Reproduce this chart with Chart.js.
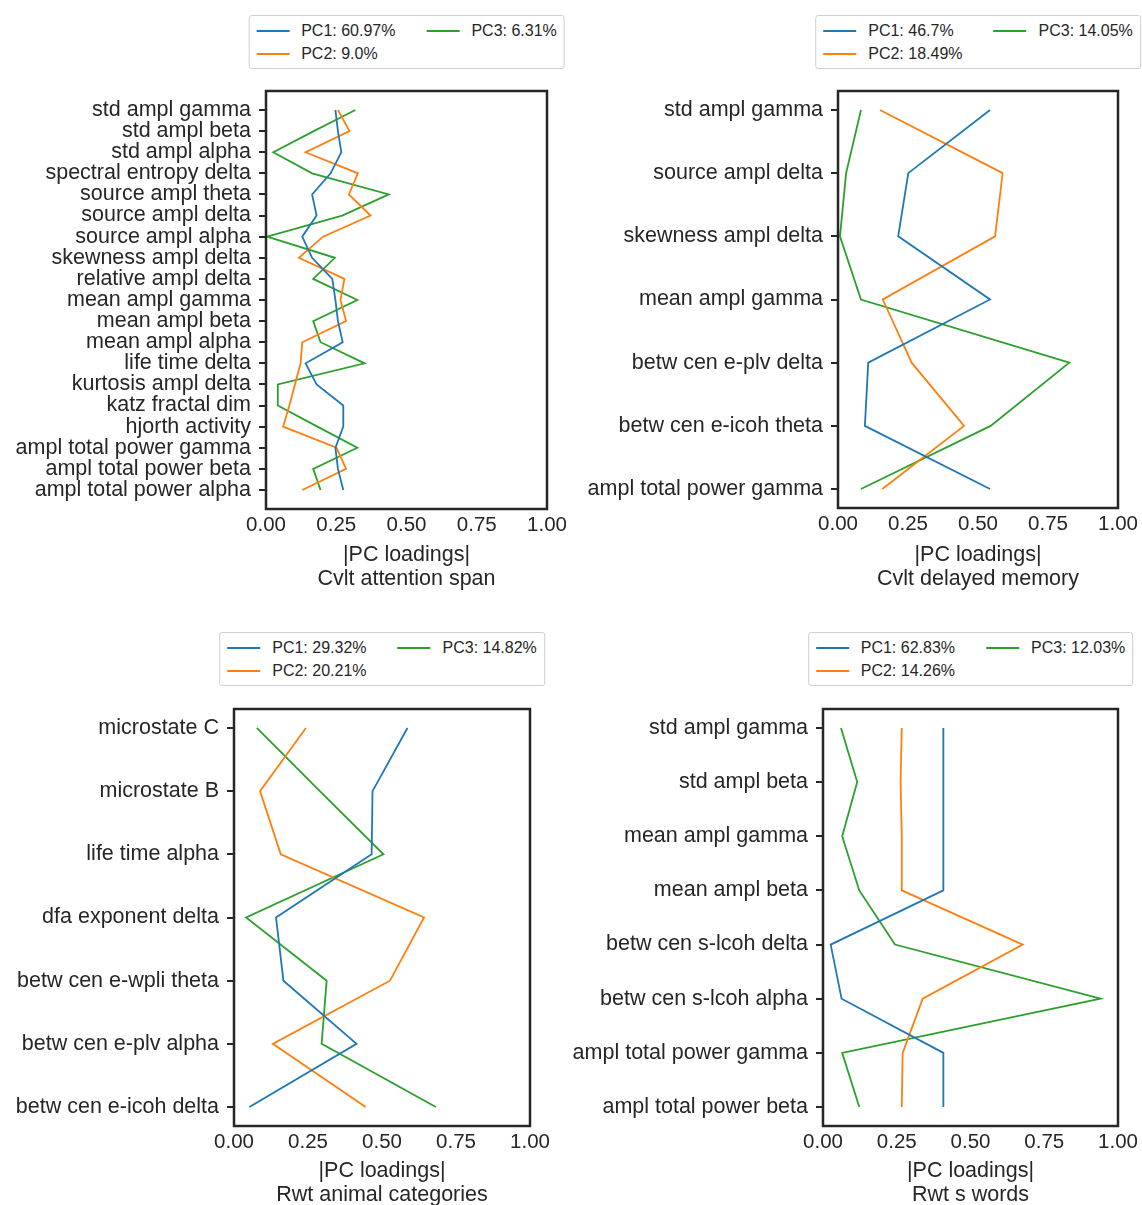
<!DOCTYPE html>
<html>
<head>
<meta charset="utf-8">
<script src="https://cdn.jsdelivr.net/npm/chart.js@4.4.1/dist/chart.umd.min.js"></script>
<style>
  html, body { margin: 0; padding: 0; background: #fff; }
  body { width: 1142px; height: 1205px; position: relative; overflow: hidden;
         font-family: "Liberation Sans", Arial, sans-serif; color: #262626; }
  .panel { position: absolute; }
  .legend { position: absolute; transform: translateX(-50%); background: #fff;
            border: 1px solid #cfcfcf; border-radius: 3px; padding: 3px 7px 3px 7px;
            display: grid; grid-template-columns: auto auto; grid-auto-flow: column;
            grid-template-rows: 23px 23px; column-gap: 31px; font-size: 16px;
            line-height: 23px; white-space: nowrap; z-index: 2; }
  .legend .item { display: flex; align-items: center; }
  .legend .swatch { display: inline-block; width: 33px; height: 2px; margin-right: 12px; }
</style>
</head>
<body>
<script>
// ---- Cvlt attention span ----
const attnLabels = ['std ampl gamma', 'std ampl beta', 'std ampl alpha', 'spectral entropy delta',
  'source ampl theta', 'source ampl delta', 'source ampl alpha', 'skewness ampl delta',
  'relative ampl delta', 'mean ampl gamma', 'mean ampl beta', 'mean ampl alpha',
  'life time delta', 'kurtosis ampl delta', 'katz fractal dim', 'hjorth activity',
  'ampl total power gamma', 'ampl total power beta', 'ampl total power alpha'];
const attnPC1 = [0.247, 0.256, 0.268, 0.230, 0.164, 0.180, 0.129, 0.164, 0.236, 0.247,
  0.256, 0.273, 0.141, 0.180, 0.275, 0.275, 0.247, 0.256, 0.275];
const attnPC2 = [0.256, 0.297, 0.141, 0.327, 0.295, 0.372, 0.203, 0.117, 0.279, 0.265,
  0.285, 0.129, 0.123, 0.103, 0.083, 0.061, 0.251, 0.285, 0.129];
const attnPC3 = [0.318, 0.170, 0.026, 0.164, 0.437, 0.271, 0.004, 0.245, 0.168, 0.325,
  0.168, 0.194, 0.351, 0.042, 0.042, 0.183, 0.325, 0.168, 0.194];
const attnVar = ['60.97', '9.0', '6.31'];

// ---- Cvlt delayed memory ----
const delayLabels = ['std ampl gamma', 'source ampl delta', 'skewness ampl delta',
  'mean ampl gamma', 'betw cen e-plv delta', 'betw cen e-icoh theta', 'ampl total power gamma'];
const delayPC1 = [0.543, 0.251, 0.215, 0.543, 0.108, 0.096, 0.543];
const delayPC2 = [0.150, 0.588, 0.561, 0.160, 0.263, 0.450, 0.158];
const delayPC3 = [0.082, 0.029, 0.007, 0.082, 0.826, 0.545, 0.082];
const delayVar = ['46.7', '18.49', '14.05'];

// ---- Rwt animal categories ----
const animalLabels = ['microstate C', 'microstate B', 'life time alpha', 'dfa exponent delta',
  'betw cen e-wpli theta', 'betw cen e-plv alpha', 'betw cen e-icoh delta'];
const animalPC1 = [0.586, 0.468, 0.465, 0.142, 0.167, 0.414, 0.052];
const animalPC2 = [0.243, 0.088, 0.158, 0.642, 0.527, 0.131, 0.445];
const animalPC3 = [0.077, 0.290, 0.505, 0.041, 0.313, 0.296, 0.682];
const animalVar = ['29.32', '20.21', '14.82'];

// ---- Rwt s words ----
const swordLabels = ['std ampl gamma', 'std ampl beta', 'mean ampl gamma', 'mean ampl beta',
  'betw cen s-lcoh delta', 'betw cen s-lcoh alpha', 'ampl total power gamma', 'ampl total power beta'];
const swordPC1 = [0.408, 0.408, 0.408, 0.408, 0.026, 0.063, 0.408, 0.408];
const swordPC2 = [0.267, 0.263, 0.267, 0.267, 0.677, 0.338, 0.270, 0.267];
const swordPC3 = [0.061, 0.116, 0.065, 0.123, 0.244, 0.941, 0.065, 0.123];
const swordVar = ['62.83', '14.26', '12.03'];

const xTicks = [0, 0.25, 0.5, 0.75, 1];
const pcNames = ['PC1', 'PC2', 'PC3'];
const pcColors = ['#1f77b4', '#ff7f0e', '#2ca02c'];
const FONT = '"Liberation Sans", Arial, sans-serif';
const INK = '#262626';

// Frame around the axes box (all four spines)
const framePlugin = {
  id: 'frame',
  afterDraw(chart) {
    const a = chart.chartArea, ctx = chart.ctx;
    ctx.save();
    ctx.strokeStyle = INK;
    ctx.lineWidth = 2.5;
    ctx.strokeRect(a.left, a.top, a.right - a.left, a.bottom - a.top);
    ctx.restore();
  }
};

// box: canvas placement; frame: axes rectangle in page coordinates
function makePanel(cfg) {
  const { box, frame, labels, series, variance, title } = cfg;
  const div = document.createElement('div');
  div.className = 'panel';
  div.style.left = box.left + 'px';
  div.style.top = box.top + 'px';
  div.style.width = box.width + 'px';
  div.style.height = box.height + 'px';
  const canvas = document.createElement('canvas');
  canvas.width = box.width;
  canvas.height = box.height;
  div.appendChild(canvas);
  document.body.appendChild(div);

  const yAxisWidth = frame.left - box.left;
  const xAxisHeight = box.top + box.height - frame.bottom;
  const n = labels.length;
  const margin = (n - 1) * 0.05;

  new Chart(canvas, {
    type: 'scatter',
    data: {
      datasets: series.map((vals, k) => ({
        label: pcNames[k] + ': ' + variance[k] + '%',
        data: vals.map((v, i) => ({ x: v, y: i })),
        showLine: true,
        borderColor: pcColors[k],
        backgroundColor: pcColors[k],
        borderWidth: 1.8,
        pointRadius: 0,
        pointHoverRadius: 0,
        tension: 0
      }))
    },
    options: {
      responsive: false,
      animation: false,
      devicePixelRatio: 1,
      layout: {
        padding: {
          top: frame.top - box.top,
          right: box.left + box.width - frame.right,
          left: 0,
          bottom: 0
        }
      },
      plugins: { legend: { display: false }, tooltip: { enabled: false } },
      scales: {
        x: {
          type: 'linear', min: 0, max: 1,
          afterBuildTicks: s => { s.ticks = xTicks.map(v => ({ value: v })); },
          afterFit: s => { s.height = xAxisHeight; },
          grid: { display: false, drawTicks: false },
          border: { display: false },
          ticks: {
            color: INK, padding: 4,
            font: { family: FONT, size: 20.5 },
            callback: v => Number(v).toFixed(2)
          },
          title: {
            display: true,
            text: ['|PC loadings|', title],
            color: INK,
            font: { family: FONT, size: 21.5, lineHeight: 1.116 },
            padding: { top: 0, bottom: cfg.titlePad }
          }
        },
        y: {
          type: 'linear', reverse: true,
          min: -margin, max: n - 1 + margin,
          afterBuildTicks: s => { s.ticks = labels.map((_, i) => ({ value: i })); },
          afterFit: s => { s.width = yAxisWidth; },
          grid: { display: true, drawOnChartArea: false, drawTicks: true,
                  tickLength: 7, color: INK, lineWidth: 2 },
          border: { display: false },
          ticks: {
            color: INK, padding: 8, autoSkip: false,
            font: { family: FONT, size: 21.5 },
            callback: v => labels[v]
          }
        }
      }
    },
    plugins: [framePlugin]
  });

  // Two-column legend centred over the axes (PC1, PC2 in the first column; PC3 in the second)
  const lg = document.createElement('div');
  lg.className = 'legend';
  lg.style.left = ((frame.left + frame.right) / 2) + 'px';
  lg.style.top = cfg.legendTop + 'px';
  pcNames.forEach((name, k) => {
    const it = document.createElement('div');
    it.className = 'item';
    const sw = document.createElement('span');
    sw.className = 'swatch';
    sw.style.background = pcColors[k];
    it.appendChild(sw);
    it.appendChild(document.createTextNode(name + ': ' + variance[k] + '%'));
    lg.appendChild(it);
  });
  document.body.appendChild(lg);
}

makePanel({
  box: { left: 0, top: 66, width: 575, height: 534 },
  frame: { left: 266, top: 91, right: 547, bottom: 509 },
  labels: attnLabels, series: [attnPC1, attnPC2, attnPC3], variance: attnVar,
  title: 'Cvlt attention span', titlePad: 9, legendTop: 15
});
makePanel({
  box: { left: 575, top: 66, width: 567, height: 534 },
  frame: { left: 838, top: 91, right: 1118, bottom: 508 },
  labels: delayLabels, series: [delayPC1, delayPC2, delayPC3], variance: delayVar,
  title: 'Cvlt delayed memory', titlePad: 9, legendTop: 15
});
makePanel({
  box: { left: 0, top: 684, width: 560, height: 523 },
  frame: { left: 234, top: 709, right: 530, bottom: 1126 },
  labels: animalLabels, series: [animalPC1, animalPC2, animalPC3], variance: animalVar,
  title: 'Rwt animal categories', titlePad: 0, legendTop: 632
});
makePanel({
  box: { left: 560, top: 684, width: 582, height: 523 },
  frame: { left: 823, top: 709, right: 1118, bottom: 1126 },
  labels: swordLabels, series: [swordPC1, swordPC2, swordPC3], variance: swordVar,
  title: 'Rwt s words', titlePad: 0, legendTop: 632
});
</script>
</body>
</html>
